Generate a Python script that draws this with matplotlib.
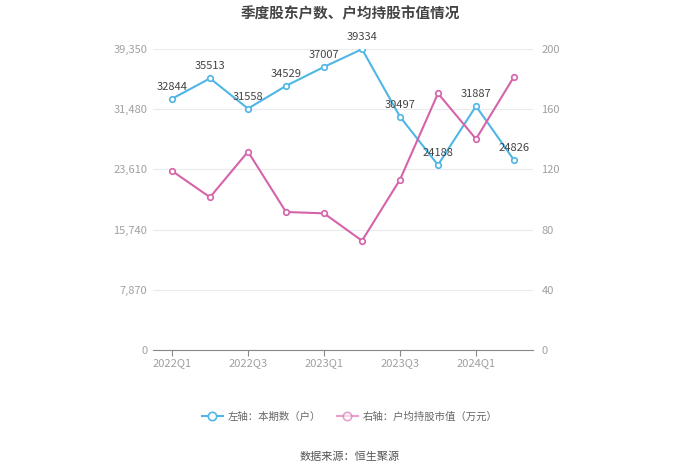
import matplotlib
matplotlib.use("Agg")
import matplotlib.pyplot as plt
from matplotlib.lines import Line2D

plt.rcParams['font.family'] = ['Noto Sans CJK SC', 'DejaVu Sans']

quarters = ['2022Q1', '2022Q2', '2022Q3', '2022Q4', '2023Q1', '2023Q2',
            '2023Q3', '2023Q4', '2024Q1', '2024Q2']
holders = [32844, 35513, 31558, 34529, 37007, 39334, 30497, 24188, 31887, 24826]
avg_value = [119.0, 101.5, 131.8, 91.7, 90.8, 72.6, 113.2, 170.5, 140.2, 181.6]
left_ticks = [0, 7870, 15740, 23610, 31480, 39350]
left_labels = ['0', '7,870', '15,740', '23,610', '31,480', '39,350']
right_ticks = [0, 40, 80, 120, 160, 200]
xtick_labels = ['2022Q1', '2022Q3', '2023Q1', '2023Q3', '2024Q1']

blue = '#4fb6e6'
pink = '#d663a9'
tick_color = '#a0a0a0'

fig = plt.figure(figsize=(7, 4.74), dpi=100)
ax = fig.add_axes([153/700, 1-350/474, 380/700, 301/474])
ax2 = ax.twinx()

x = list(range(len(quarters)))
ax.plot(x, holders, color=blue, lw=1.5, marker='o', ms=4, mfc='white', mec=blue, mew=1.2, zorder=3)
ax2.plot(x, avg_value, color=pink, lw=1.5, marker='o', ms=4, mfc='white', mec=pink, mew=1.2, zorder=3)

for xi, v in zip(x, holders):
    ax.annotate(str(v), (xi, v), xytext=(0, 5), textcoords='offset points',
                ha='center', va='bottom', fontsize=8, color='#444444', zorder=5)

ax.set_xlim(-0.5, len(quarters) - 0.5)
ax.set_ylim(0, 39350)
ax2.set_ylim(0, 200)
ax.set_yticks(left_ticks)
ax.set_yticklabels(left_labels)
ax2.set_yticks(right_ticks)
ax2.set_yticklabels([str(t) for t in right_ticks])
ax.set_xticks([x[i] for i in range(0, len(quarters), 2)])
ax.set_xticklabels(xtick_labels)

ax.grid(axis='y', color='#e8ecf0', lw=0.8)
ax.set_axisbelow(True)
for a in (ax, ax2):
    for s in ['top', 'right', 'left', 'bottom']:
        a.spines[s].set_visible(False)
ax.spines['bottom'].set_visible(True)
ax.spines['bottom'].set_color('#888888')
ax.tick_params(axis='y', length=0, labelsize=8, labelcolor=tick_color, pad=4)
ax2.tick_params(axis='y', length=0, labelsize=8, labelcolor=tick_color, pad=6)
ax.tick_params(axis='x', length=4, color='#888888', labelsize=8, labelcolor=tick_color, pad=2)

fig.text(0.5, 1-13/474, '季度股东户数、户均持股市值情况', ha='center', va='center',
         fontsize=10.5, fontweight='bold', color='#444444')

handles = [Line2D([0], [0], color=blue, lw=1.5, marker='o', ms=6, mfc='white', mec=blue, mew=1.2),
           Line2D([0], [0], color=pink, lw=1.5, marker='o', ms=6, mfc='white', mec=pink, mew=1.2, alpha=0.6)]
leg = fig.legend(handles, ['左轴：本期数（户）', '右轴：户均持股市值（万元）'], loc='center',
                 bbox_to_anchor=(0.5, 1-417/474), ncol=2, frameon=False, fontsize=7.5,
                 handlelength=2.0, columnspacing=1.5, handletextpad=0.5)
for t in leg.get_texts():
    t.set_color('#666666')

fig.text(0.5, 1-457/474, '数据来源：恒生聚源', ha='center', va='center', fontsize=8, color='#555555')

fig.savefig('out.png', dpi=100, facecolor='white')
